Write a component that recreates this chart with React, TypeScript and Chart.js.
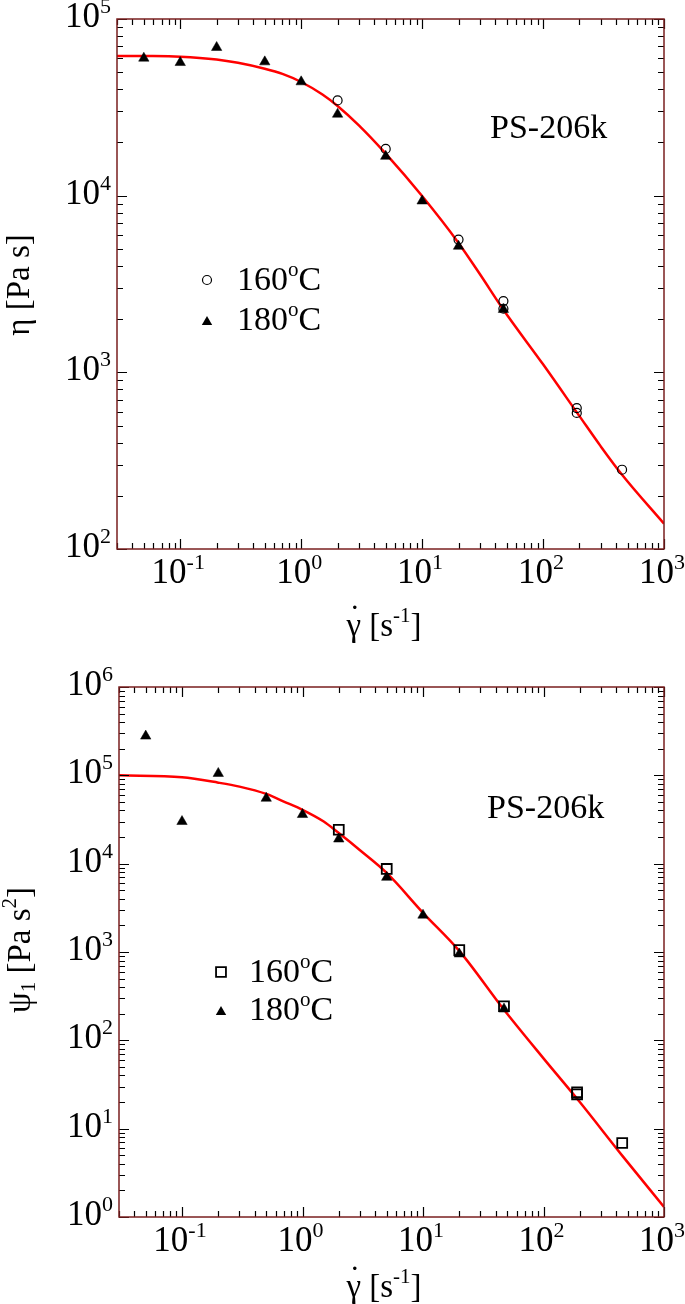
import React, { useEffect, useRef } from 'react';
import { Chart, registerables } from 'chart.js';

Chart.register(...registerables);

const FONT = '"Liberation Serif", "Times New Roman", serif';

// ---------- Top panel: viscosity eta ----------
const etaCurveRate = [0.03, 0.05, 0.1, 0.2, 0.3, 0.5, 0.7, 1, 1.5, 2, 3, 5, 10, 20, 30, 47, 100, 200, 300, 450, 1000];
const etaCurve = [61800, 61700, 61200, 59000, 56500, 52300, 48900, 44000, 37400, 32200, 25000, 17300, 9950, 5400, 3600, 2260, 1110, 565, 381, 263, 139];
const eta180Rate = [0.05, 0.1, 0.2, 0.5, 1, 2, 5, 10, 20, 47];
const eta180 = [60000, 56700, 69000, 57200, 44100, 28900, 16700, 9330, 5170, 2270];
const eta160Rate = [2, 5, 20, 47, 47, 190, 190, 450];
const eta160 = [34600, 18400, 5640, 2530, 2290, 628, 589, 281];

// ---------- Bottom panel: first normal stress coefficient psi1 ----------
const psiCurveRate = [0.03, 0.1, 0.2, 0.3, 0.5, 0.7, 1, 1.5, 2, 3, 5, 10, 20, 47, 100, 200, 450, 1000];
const psiCurve = [100000, 95000, 82600, 74500, 61600, 50500, 40700, 30000, 22200, 14200, 7850, 2780, 1030, 222, 62.5, 20.0, 4.95, 1.3];
const psi180Rate = [0.05, 0.1, 0.2, 0.5, 1, 2, 5, 10, 20, 47];
const psi180 = [278000, 30000, 105000, 55000, 36000, 19000, 7000, 2610, 950, 226];
const psi160Rate = [2, 5, 20, 47, 190, 190, 450];
const psi160 = [24200, 8710, 1050, 243, 25.8, 24.5, 6.88];

// ---------- Tick labels ----------
const xTickValues = [0.1, 1, 10, 100, 1000];
const xTickExps = ['-1', '0', '1', '2', '3'];
const etaTickValues = [100, 1000, 10000, 100000];
const etaTickExps = ['2', '3', '4', '5'];
const psiTickValues = [1, 10, 100, 1000, 10000, 100000, 1000000];
const psiTickExps = ['0', '1', '2', '3', '4', '5', '6'];

const sampleLabel = 'PS-206k';
const legend160 = '160';
const legend180 = '180';

type Part = { t: string; size: number; dy: number };

function drawRich(ctx: CanvasRenderingContext2D, parts: Part[], x: number, y: number, align: 'left' | 'center' | 'right') {
  let w = 0;
  for (const p of parts) {
    ctx.font = `${p.size}px ${FONT}`;
    w += ctx.measureText(p.t).width;
  }
  let cx = align === 'left' ? x : align === 'center' ? x - w / 2 : x - w;
  ctx.textAlign = 'left';
  ctx.textBaseline = 'alphabetic';
  const starts: number[] = [];
  for (const p of parts) {
    ctx.font = `${p.size}px ${FONT}`;
    starts.push(cx);
    ctx.fillText(p.t, cx, y + p.dy);
    cx += ctx.measureText(p.t).width;
  }
  return starts;
}

function drawMarker(ctx: CanvasRenderingContext2D, style: string, x: number, y: number, r: number) {
  ctx.save();
  ctx.strokeStyle = '#000';
  ctx.fillStyle = '#000';
  ctx.beginPath();
  if (style === 'circle') {
    ctx.lineWidth = 1.2;
    ctx.arc(x, y, r, 0, Math.PI * 2);
    ctx.stroke();
  } else if (style === 'triangle') {
    ctx.moveTo(x, y - r);
    ctx.lineTo(x + Math.sin((2 * Math.PI) / 3) * r, y - Math.cos((2 * Math.PI) / 3) * r);
    ctx.lineTo(x + Math.sin((4 * Math.PI) / 3) * r, y - Math.cos((4 * Math.PI) / 3) * r);
    ctx.closePath();
    ctx.fill();
  } else {
    ctx.lineWidth = 1.8;
    const s = Math.SQRT1_2 * r;
    ctx.rect(x - s, y - s, 2 * s, 2 * s);
    ctx.stroke();
  }
  ctx.restore();
}

type Decor = {
  yTickValues: number[];
  yTickExps: string[];
  yTitle: Part[];
  yTitleX: number;
  yTitleY: number;
  xTitleBaseline: number;
  sampleX: number;
  sampleY: number;
  legendStyle160: string;
  legendR160: number;
  legendX: number;
  legendTextX: number;
  legendY160: number;
  legendY180: number;
};

const TICK_FONT = 35;
const EXP_FONT = 22;

function makeDecorPlugin(d: Decor) {
  return {
    id: 'decor',
    afterDatasetsDraw(chart: any) {
      const ctx: CanvasRenderingContext2D = chart.ctx;
      const xs = chart.scales.x;
      const ys = chart.scales.y;
      const { left, right, top, bottom } = chart.chartArea;
      ctx.save();
      // ticks
      ctx.strokeStyle = '#000';
      ctx.lineWidth = 1.2;
      const logTicks = (min: number, max: number) => {
        const out: { v: number; major: boolean }[] = [];
        for (let e = Math.floor(Math.log10(min)); e <= Math.ceil(Math.log10(max)); e++) {
          for (let m = 1; m <= 9; m++) {
            const v = m * Math.pow(10, e);
            if (v >= min * 0.9999 && v <= max * 1.0001) out.push({ v, major: m === 1 });
          }
        }
        return out;
      };
      ctx.beginPath();
      for (const t of logTicks(xs.min, xs.max)) {
        const px = Math.round(xs.getPixelForValue(t.v)) + 0.5;
        const len = t.major ? 10 : 6;
        ctx.moveTo(px, bottom);
        ctx.lineTo(px, bottom - len);
        ctx.moveTo(px, top);
        ctx.lineTo(px, top + len);
      }
      for (const t of logTicks(ys.min, ys.max)) {
        const py = Math.round(ys.getPixelForValue(t.v)) + 0.5;
        const len = t.major ? 10 : 6;
        ctx.moveTo(left, py);
        ctx.lineTo(left + len, py);
        ctx.moveTo(right, py);
        ctx.lineTo(right - len, py);
      }
      ctx.stroke();
      // frame
      ctx.strokeStyle = '#7a1f1f';
      ctx.lineWidth = 1.5;
      ctx.strokeRect(left, top, right - left, bottom - top);

      ctx.fillStyle = '#000';
      // x tick labels
      xTickValues.forEach((v, i) => {
        const px = xs.getPixelForValue(v);
        drawRich(ctx, [
          { t: '10', size: TICK_FONT, dy: 0 },
          { t: xTickExps[i], size: EXP_FONT, dy: -14 },
        ], px - 2, bottom + 34, 'center');
      });
      // y tick labels
      d.yTickValues.forEach((v, i) => {
        const py = ys.getPixelForValue(v);
        drawRich(ctx, [
          { t: '10', size: TICK_FONT, dy: 0 },
          { t: d.yTickExps[i], size: EXP_FONT, dy: -14 },
        ], left - 6, py + 8, 'right');
      });
      // x title: gamma with dot above
      const starts = drawRich(ctx, [
        { t: 'γ [s', size: 33, dy: 0 },
        { t: '-1', size: 21, dy: -14 },
        { t: ']', size: 33, dy: 0 },
      ], 384, d.xTitleBaseline, 'center');
      ctx.font = `33px ${FONT}`;
      const gw = ctx.measureText('γ').width;
      ctx.textAlign = 'center';
      ctx.fillText('\u02D9', starts[0] + gw / 2 + 1, d.xTitleBaseline - 8);
      // y title
      ctx.save();
      ctx.translate(d.yTitleX, d.yTitleY);
      ctx.rotate(-Math.PI / 2);
      drawRich(ctx, d.yTitle, 0, 0, 'center');
      ctx.restore();
      // sample label
      drawRich(ctx, [{ t: sampleLabel, size: 34, dy: 0 }], d.sampleX, d.sampleY, 'left');
      // legend
      drawMarker(ctx, d.legendStyle160, d.legendX, d.legendY160, d.legendR160);
      drawMarker(ctx, 'triangle', d.legendX, d.legendY180, 6);
      drawRich(ctx, [
        { t: legend160, size: 34, dy: 0 },
        { t: 'o', size: 21, dy: -14 },
        { t: 'C', size: 34, dy: 0 },
      ], d.legendTextX, d.legendY160 + 10, 'left');
      drawRich(ctx, [
        { t: legend180, size: 34, dy: 0 },
        { t: 'o', size: 21, dy: -14 },
        { t: 'C', size: 34, dy: 0 },
      ], d.legendTextX, d.legendY180 + 8, 'left');
      ctx.restore();
    },
  };
}

function toXY(xs: number[], ys: number[]) {
  return xs.map((x, i) => ({ x, y: ys[i] }));
}

type PanelProps = {
  datasets: any[];
  yMin: number;
  yMax: number;
  padding: { left: number; right: number; top: number; bottom: number };
  decor: Decor;
  top: number;
};

function Panel({ datasets, yMin, yMax, padding, decor, top }: PanelProps) {
  const ref = useRef<HTMLCanvasElement | null>(null);
  useEffect(() => {
    if (!ref.current) return;
    const chart = new Chart(ref.current, {
      type: 'scatter',
      data: { datasets },
      options: {
        animation: false,
        responsive: false,
        devicePixelRatio: 1,
        layout: { padding },
        plugins: { legend: { display: false }, tooltip: { enabled: false } },
        scales: {
          x: { type: 'logarithmic', min: 0.03, max: 1000, display: false },
          y: { type: 'logarithmic', min: yMin, max: yMax, display: false },
        },
      },
      plugins: [makeDecorPlugin(decor)],
    } as any);
    return () => chart.destroy();
  }, []);
  return (
    <canvas
      ref={ref}
      width={685}
      height={652}
      style={{ position: 'absolute', left: 0, top, width: 685, height: 652 }}
    />
  );
}

export default function App() {
  const topSets = [
    {
      label: '160°C',
      data: toXY(eta160Rate, eta160),
      pointStyle: 'circle',
      pointRadius: 4.5,
      borderColor: '#000',
      backgroundColor: 'rgba(0,0,0,0)',
      borderWidth: 1.2,
    },
    {
      label: '180°C',
      data: toXY(eta180Rate, eta180),
      pointStyle: 'triangle',
      pointRadius: 6,
      borderColor: '#000',
      backgroundColor: '#000',
      borderWidth: 0.5,
    },
    {
      label: 'fit',
      data: toXY(etaCurveRate, etaCurve),
      showLine: true,
      pointRadius: 0,
      borderColor: '#ff0000',
      borderWidth: 2.5,
      cubicInterpolationMode: 'monotone',
    },
  ];
  const bottomSets = [
    {
      label: '160°C',
      data: toXY(psi160Rate, psi160),
      pointStyle: 'rect',
      pointRadius: 7,
      borderColor: '#000',
      backgroundColor: 'rgba(0,0,0,0)',
      borderWidth: 1.8,
    },
    {
      label: '180°C',
      data: toXY(psi180Rate, psi180),
      pointStyle: 'triangle',
      pointRadius: 6,
      borderColor: '#000',
      backgroundColor: '#000',
      borderWidth: 0.5,
    },
    {
      label: 'fit',
      data: toXY(psiCurveRate, psiCurve),
      showLine: true,
      pointRadius: 0,
      borderColor: '#ff0000',
      borderWidth: 2.5,
      cubicInterpolationMode: 'monotone',
    },
  ];
  return (
    <div style={{ position: 'absolute', left: 0, top: 0, width: 685, height: 1304, background: '#fff' }}>
      <Panel
        top={0}
        datasets={topSets}
        yMin={100}
        yMax={100000}
        padding={{ left: 117, right: 21, top: 19, bottom: 103 }}
        decor={{
          yTickValues: etaTickValues,
          yTickExps: etaTickExps,
          yTitle: [{ t: 'η [Pa s]', size: 33, dy: 0 }],
          yTitleX: 29,
          yTitleY: 285,
          xTitleBaseline: 636,
          sampleX: 490,
          sampleY: 138,
          legendStyle160: 'circle',
          legendR160: 4.5,
          legendX: 207,
          legendTextX: 237,
          legendY160: 280,
          legendY180: 322,
        }}
      />
      <Panel
        top={652}
        datasets={bottomSets}
        yMin={1}
        yMax={1000000}
        padding={{ left: 119, right: 21, top: 35, bottom: 87 }}
        decor={{
          yTickValues: psiTickValues,
          yTickExps: psiTickExps,
          yTitle: [
            { t: 'ψ', size: 33, dy: 0 },
            { t: '1', size: 21, dy: 5 },
            { t: ' [Pa s', size: 33, dy: 0 },
            { t: '2', size: 21, dy: -14 },
            { t: ']', size: 33, dy: 0 },
          ],
          yTitleX: 30,
          yTitleY: 298,
          xTitleBaseline: 645,
          sampleX: 487,
          sampleY: 166,
          legendStyle160: 'rect',
          legendR160: 7,
          legendX: 221,
          legendTextX: 249,
          legendY160: 320,
          legendY180: 360,
        }}
      />
    </div>
  );
}
